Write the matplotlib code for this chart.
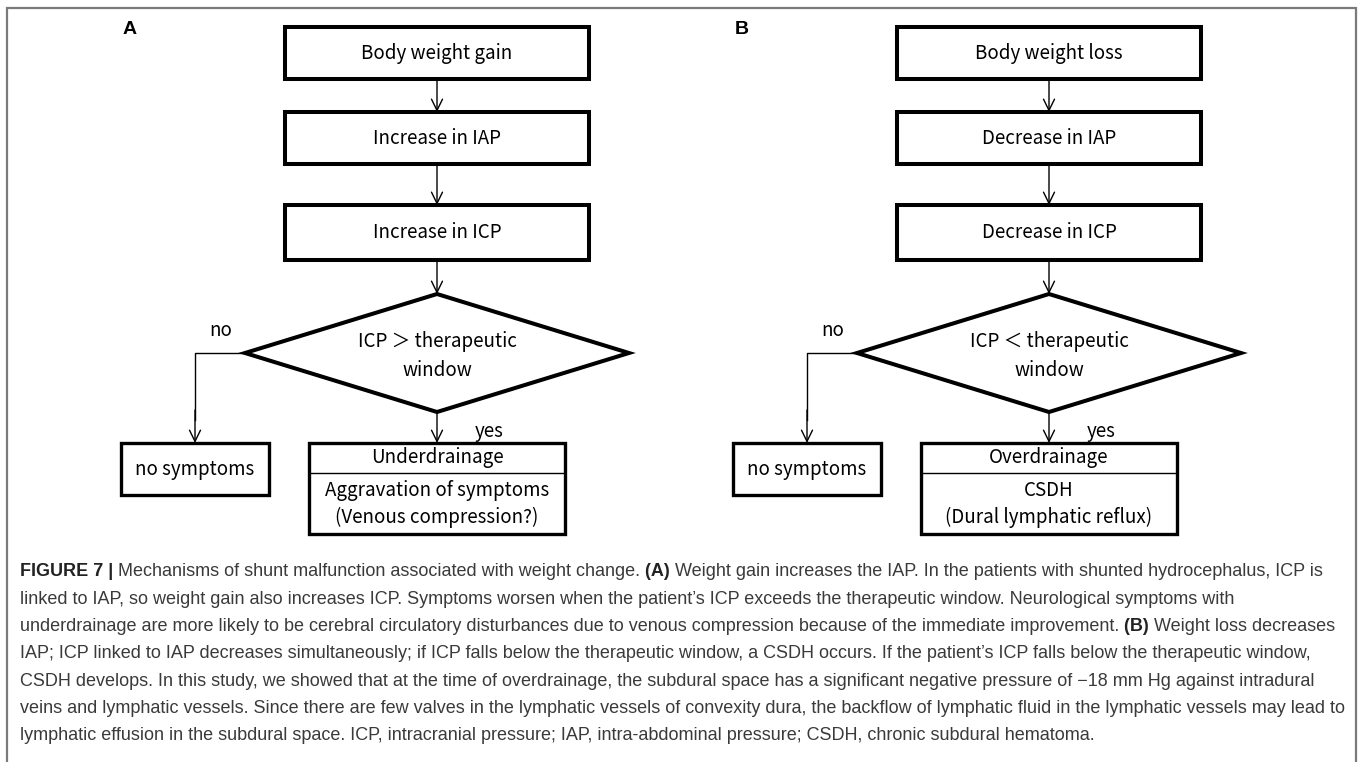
import matplotlib
matplotlib.use("Agg")
import matplotlib.pyplot as plt
from matplotlib.patches import Rectangle, Polygon

# flowchart texts, one list per panel
panel_tags = ["A", "B"]
steps_a = ["Body weight gain", "Increase in IAP", "Increase in ICP"]
steps_b = ["Body weight loss", "Decrease in IAP", "Decrease in ICP"]
decision = ["ICP ＞ therapeutic\nwindow", "ICP ＜ therapeutic\nwindow"]
no_result = ["no symptoms", "no symptoms"]
yes_title = ["Underdrainage", "Overdrainage"]
yes_body = ["Aggravation of symptoms\n(Venous compression?)", "CSDH\n(Dural lymphatic reflux)"]
branch_labels = ["no", "yes"]

# caption, line by line; each line is a list of (text, bold)
caption = [
    [("FIGURE 7 | ", True), ("Mechanisms of shunt malfunction associated with weight change. ", False),
     ("(A) ", True), ("Weight gain increases the IAP. In the patients with shunted hydrocephalus, ICP is", False)],
    [("linked to IAP, so weight gain also increases ICP. Symptoms worsen when the patient\u2019s ICP exceeds the therapeutic window. Neurological symptoms with", False)],
    [("underdrainage are more likely to be cerebral circulatory disturbances due to venous compression because of the immediate improvement. ", False),
     ("(B) ", True), ("Weight loss decreases", False)],
    [("IAP; ICP linked to IAP decreases simultaneously; if ICP falls below the therapeutic window, a CSDH occurs. If the patient\u2019s ICP falls below the therapeutic window,", False)],
    [("CSDH develops. In this study, we showed that at the time of overdrainage, the subdural space has a significant negative pressure of \u221218 mm Hg against intradural", False)],
    [("veins and lymphatic vessels. Since there are few valves in the lymphatic vessels of convexity dura, the backflow of lymphatic fluid in the lymphatic vessels may lead to", False)],
    [("lymphatic effusion in the subdural space. ICP, intracranial pressure; IAP, intra-abdominal pressure; CSDH, chronic subdural hematoma.", False)],
]

W, H = 1360, 762
fig = plt.figure(figsize=(W / 100, H / 100), dpi=100)
ax = fig.add_axes([0, 0, 1, 1])
ax.set_xlim(0, W)
ax.set_ylim(H, 0)
ax.axis("off")

jp = ["Noto Sans CJK JP", "DejaVu Sans"]
fs = 13.5
thick = 2.9

# outer frame (top, left, right)
ax.plot([7, 7, 1356, 1356], [H, 8, 8, H], color="#7a7a7a", lw=1.6, solid_joinstyle="miter")


def arrow(x0, y0, x1, y1):
    ax.annotate("", xy=(x1, y1), xytext=(x0, y0),
                arrowprops=dict(arrowstyle="->,head_length=0.45,head_width=0.22",
                                lw=1.0, color="black", mutation_scale=18,
                                shrinkA=0, shrinkB=0))


def panel(cx, tag, steps, dec, no_txt, ytitle, ybody):
    ax.text(cx - 307, 30, tag, ha="center", va="center", fontsize=14,
            fontweight="bold", family="Liberation Sans")
    rows = [(27, 79), (112, 164), (205, 260)]
    for (t, b), label in zip(rows, steps):
        ax.add_patch(Rectangle((cx - 152, t), 304, b - t, fill=False, lw=thick,
                               ec="black", joinstyle="miter"))
        ax.text(cx, (t + b) / 2, label, ha="center", va="center", fontsize=fs, family=jp)
    for (t0, b0), (t1, b1) in zip(rows[:-1], rows[1:]):
        arrow(cx, b0, cx, t1)

    # decision diamond
    dt, db, hw = 294, 412, 192
    dm = (dt + db) / 2
    arrow(cx, rows[-1][1], cx, dt)
    ax.add_patch(Polygon([(cx, dt), (cx + hw, dm), (cx, db), (cx - hw, dm)], closed=True,
                         fill=False, lw=thick, ec="black", joinstyle="miter"))
    ax.text(cx, dm + 3, dec, ha="center", va="center", fontsize=fs, family=jp,
            linespacing=1.45)

    # no branch
    xn = cx - 242
    ax.plot([cx - hw, xn, xn], [dm, dm, 420], color="black", lw=1.0)
    arrow(xn, 410, xn, 443)
    ax.text(xn + 26, dm - 22, branch_labels[0], ha="center", va="center",
            fontsize=fs, family=jp)
    ax.add_patch(Rectangle((xn - 74, 443), 148, 52, fill=False, lw=2.4, ec="black",
                           joinstyle="miter"))
    ax.text(xn, 469, no_txt, ha="center", va="center", fontsize=fs, family=jp)

    # yes branch
    arrow(cx, db, cx, 443)
    ax.text(cx + 52, 431, branch_labels[1], ha="center", va="center", fontsize=fs, family=jp)
    ax.add_patch(Rectangle((cx - 128, 443), 256, 91, fill=False, lw=2.4, ec="black",
                           joinstyle="miter"))
    ax.plot([cx - 128, cx + 128], [473, 473], color="black", lw=1.0)
    ax.text(cx, 458, ytitle, ha="center", va="center", fontsize=fs, family=jp)
    ax.text(cx, 504, ybody, ha="center", va="center", fontsize=fs, family=jp,
            linespacing=1.4)


panel(437, panel_tags[0], steps_a, decision[0], no_result[0], yes_title[0], yes_body[0])
panel(1049, panel_tags[1], steps_b, decision[1], no_result[1], yes_title[1], yes_body[1])

# caption with mixed bold runs, placed in pixel units
renderer = fig.canvas.get_renderer()
cap_fs = 13.0
y = 572
for line in caption:
    x = 20
    for txt, bold in line:
        t = ax.text(x, y, txt, ha="left", va="center", fontsize=cap_fs,
                    family="Liberation Sans", color="#222222" if bold else "#3a3a3a",
                    fontweight="bold" if bold else "normal")
        x += t.get_window_extent(renderer).width
    y += 27.3

fig.savefig("out.png", dpi=100)
